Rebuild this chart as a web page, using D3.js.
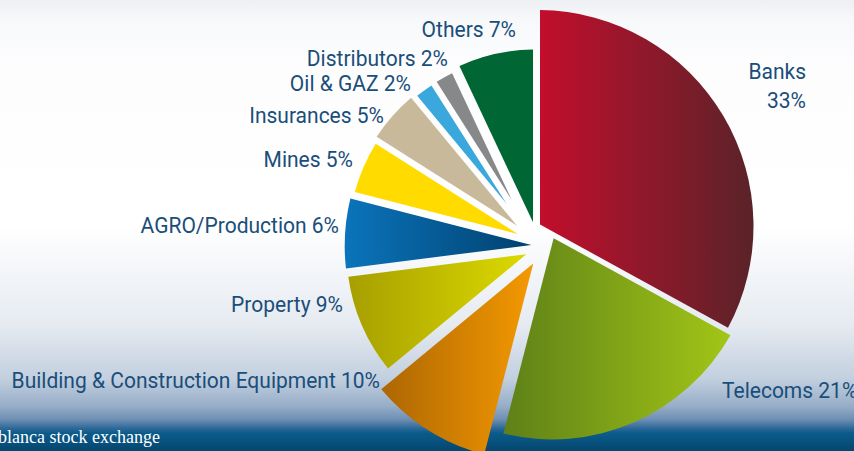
<!DOCTYPE html>
<html>
<head>
<meta charset="utf-8">
<script src="https://cdnjs.cloudflare.com/ajax/libs/d3/7.8.5/d3.min.js"></script>
<style>
	html, body { margin: 0; padding: 0; overflow: hidden; background: #fff; }
	svg { display: block; }
	.label { font-family: Roboto, "Liberation Sans", sans-serif; font-size: 22px; fill: #1a4e7a; }
	.source { font-family: "Liberation Serif", "DejaVu Serif", serif; font-size: 18px; fill: #fff; }
</style>
</head>
<body>
<svg id="chart"></svg>
<script>
/**
 * Data: market capitalisation by sector, clockwise from 12 o'clock.
 */
var sectors = ["Banks", "Telecoms", "Building & Construction Equipment", "Property", "AGRO/Production",
	"Mines", "Insurances", "Oil & GAZ", "Distributors", "Others"];
var shares = [33, 21, 10, 9, 6, 5, 5, 2, 2, 7];

// slice fills (left -> right gradient)
var colorFrom = ["#c20e2c", "#5e8018", "#ad6603", "#a69f00", "#0b74bb", "#ffdb00", "#c9b99b", "#3aa8dc", "#87888a", "#006633"];
var colorTo = ["#5a2329", "#a2c617", "#f49900", "#dcd900", "#00416f", "#ffdb00", "#c9b99b", "#3aa8dc", "#87888a", "#006633"];

// exploded look: each slice pushed a bit off the centre and drawn at its own radius
var sliceShift = [[3.5, -12], [18, -3.6], [3.6, 18.6], [0.5, 12.7], [10.7, 7.8],
	[-1.6, 2.3], [-5, -1.7], [-4, -2], [-3, -3], [1.5, -4.5]];
var sliceRadius = [216, 205, 205, 188, 200, 184, 182, 180, 180, 184];

// label anchors [x, baseline]
var labelPos = [[806, 79], [722, 398], [380, 388], [343, 312], [339, 233],
	[353, 167], [384, 123], [411, 91], [448, 66], [516, 37]];

var width = 854,
	height = 451,
	cx = 534,
	cy = 238,
	gap = 5,
	squeeze = 0.955; // the label face is a little condensed

var svg = d3.select("#chart")
	.attr("width", width)
	.attr("height", height);

var defs = svg.append("defs");

// page background
var bg = defs.append("linearGradient")
	.attr("id", "bg")
	.attr("x1", 0).attr("y1", 0)
	.attr("x2", 0).attr("y2", 1);
[[0, "#edf0f4"], [0.04, "#f6f8fa"], [0.14, "#fdfdfe"], [0.5, "#ffffff"], [0.72, "#e6ebf1"],
	[0.84, "#c2cfdf"], [0.9, "#97aec8"], [0.93, "#6e8fb3"], [0.95, "#2c6898"], [0.96, "#0b5c8b"], [1, "#05466f"]]
	.forEach(function (s) {
		bg.append("stop").attr("offset", s[0]).attr("stop-color", s[1]);
	});

svg.append("rect")
	.attr("width", width)
	.attr("height", height)
	.attr("fill", "url(#bg)");

shares.forEach(function (v, i) {
	var g = defs.append("linearGradient")
		.attr("id", "slice" + i)
		.attr("x1", 0).attr("y1", 0)
		.attr("x2", 1).attr("y2", 0);
	g.append("stop").attr("offset", 0).attr("stop-color", colorFrom[i]);
	g.append("stop").attr("offset", 1).attr("stop-color", colorTo[i]);
});

var pie = d3.pie()
	.sort(null)
	.value(function (d) {
		return d;
	});

var padRadius = 100,
	padAngle = 2 * Math.asin(gap / 2 / padRadius);

var arc = d3.arc()
	.innerRadius(function (d) {
		// where the two parallel gaps meet
		return (gap / 2) / Math.sin((d.endAngle - d.startAngle) / 2);
	})
	.outerRadius(function (d) {
		return sliceRadius[d.index];
	})
	.padAngle(padAngle)
	.padRadius(padRadius);

svg.append("g")
	.selectAll("path")
	.data(pie(shares))
	.join("path")
	.attr("transform", function (d) {
		var s = sliceShift[d.index];
		return "translate(" + (cx + s[0]) + "," + (cy + s[1]) + ")";
	})
	.attr("d", arc)
	.attr("fill", function (d) {
		return "url(#slice" + d.index + ")";
	});

// labels
var labels = svg.append("g");

function addLabel(x, y, anchor, str) {
	labels.append("text")
		.attr("class", "label")
		.attr("transform", "translate(" + x + "," + y + ") scale(" + squeeze + ",1)")
		.attr("text-anchor", anchor)
		.text(str);
}

sectors.forEach(function (name, i) {
	var p = labelPos[i];
	if (i == 0) {
		addLabel(p[0], p[1], "end", name);
		addLabel(p[0], p[1] + 29, "end", shares[i] + "%");
	} else {
		addLabel(p[0], p[1], i == 1 ? "start" : "end", name + " " + shares[i] + "%");
	}
});

svg.append("text")
	.attr("class", "source")
	.attr("x", 160)
	.attr("y", 443)
	.attr("text-anchor", "end")
	.text("Source: Casablanca stock exchange");
</script>
</body>
</html>
